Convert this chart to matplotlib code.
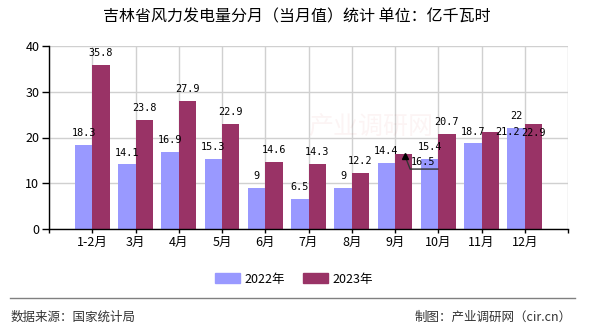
import numpy as np
import matplotlib.pyplot as plt
from matplotlib.lines import Line2D
from matplotlib.patches import Patch

plt.rcParams['font.family'] = ['Noto Sans CJK SC', 'DejaVu Sans']

# Data (亿千瓦时)
months = ['1-2月', '3月', '4月', '5月', '6月', '7月', '8月', '9月', '10月', '11月', '12月']
vals_2022 = [18.3, 14.1, 16.9, 15.3, 9, 6.5, 9, 14.4, 15.4, 18.7, 22]
vals_2023 = [35.8, 23.8, 27.9, 22.9, 14.6, 14.3, 12.2, 16.5, 20.7, 21.2, 22.9]
series_names = ['2022年', '2023年']

c22 = '#9999FF'
c23 = '#993366'

fig = plt.figure(figsize=(5.9, 3.3), dpi=100)
ax = fig.add_axes([49/590, 1-229/330, 519/590, 183/330])

x = np.arange(1, len(months)+1)
w = 0.4
ax.bar(x - w/2, vals_2022, width=w, color=c22, zorder=2)
ax.bar(x + w/2, vals_2023, width=w, color=c23, zorder=2)

ax.set_xlim(0, len(months)+1)
ax.set_ylim(0, 40)
ax.set_xticks(np.arange(0, len(months)+2))
ax.set_xticklabels([''] + months + [''], fontsize=9)
ax.set_yticks([0, 10, 20, 30, 40])
ax.tick_params(axis='y', labelsize=9, length=5, width=1, pad=2)
ax.tick_params(axis='x', length=3, width=1, pad=2)
ax.grid(True, color='#d0d0d0', lw=1, zorder=0)
for s in ['top', 'right']:
    ax.spines[s].set_visible(False)
for s in ['left', 'bottom']:
    ax.spines[s].set_color('black')
    ax.spines[s].set_linewidth(1)

# value labels; a few are nudged like in the original
nudge = {(1, 9): (12.5, 0), (1, 10): (0, -6.3), (1, 7): (13.9, -6.1)}
for si, (vals, off) in enumerate([(vals_2022, -w/2), (vals_2023, w/2)]):
    for i, v in enumerate(vals):
        dx, dy = nudge.get((si, i), (0, 8.6))
        txt = f'{v:g}'
        ax.annotate(txt, (x[i] + off, v), xytext=(dx, dy), textcoords='offset points',
                    ha='center', va='center', fontsize=7.3, family='DejaVu Sans Mono',
                    zorder=5)

# leader line for the 9月 2023 label
x0, v0 = x[7] + w/2, vals_2023[7]
ax.plot([x0 + 0.03, x0 + 0.15, x0 + 0.79], [v0 - 0.5, v0 - 3.4, v0 - 3.4],
        color='#333333', lw=1, zorder=6)
ax.plot([x0 + 0.03], [v0 - 0.5], marker='^', color='black', ms=5, zorder=6)

# faint watermark
ax.text(0.62, 0.56, '产业调研网', transform=ax.transAxes, fontsize=18,
        color='#cc3333', alpha=0.05, ha='center', va='center', zorder=4)

fig.text(297/590, 1-17/330, '吉林省风力发电量分月（当月值）统计 单位：亿千瓦时',
         ha='center', va='center', fontsize=11.5, color='black')

handles = [Patch(color=c22), Patch(color=c23)]
fig.legend(handles, series_names, loc='center', bbox_to_anchor=(294/590, 1-279/330),
           ncol=2, frameon=False, fontsize=9, handlelength=2.0, handleheight=0.9,
           columnspacing=1.4, handletextpad=0.4)

fig.add_artist(Line2D([10/590, 575/590], [1-298/330, 1-298/330],
                      transform=fig.transFigure, color='#808080', lw=1))
fig.text(11/590, 1-317/330, '数据来源：国家统计局', ha='left', va='center',
         fontsize=9, color='#333333')
fig.text(572/590, 1-317/330, '制图：产业调研网（cir.cn）', ha='right', va='center',
         fontsize=9, color='#333333')

fig.savefig('out.png', dpi=100)
